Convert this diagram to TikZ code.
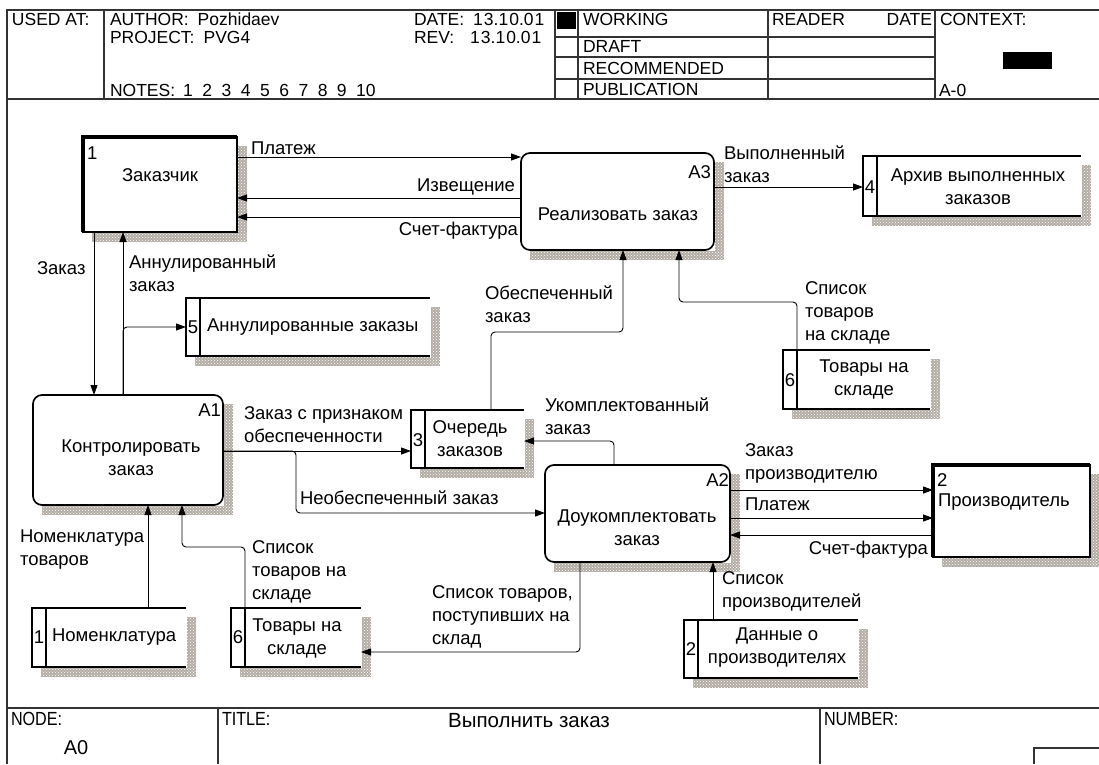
\documentclass[tikz,border=0pt]{standalone}
\usepackage{fontspec}
\setmainfont{Liberation Sans}
\newfontfamily\narrowfont[FakeStretch=0.85]{Liberation Sans}
\usetikzlibrary{arrows.meta,patterns}
\definecolor{shadowgray}{RGB}{178,172,164}
\newcommand{\myshadow}[4]{%
  \fill[shadowgray] ({#3+1},{#2+9}) rectangle ({#3+10},{#4+10});
  \fill[shadowgray] ({#1+9},{#4+1}) rectangle ({#3+10},{#4+10});
  \fill[pattern=crosshatch dots, pattern color=white] ({#3+1},{#2+9}) rectangle ({#3+10},{#4+10});
  \fill[pattern=crosshatch dots, pattern color=white] ({#1+9},{#4+1}) rectangle ({#3+10},{#4+10});}
\begin{document}
\begin{tikzpicture}[x=1pt,y=-1pt,
  every node/.style={inner sep=0pt, outer sep=0pt},
  region/.style={anchor=north west, minimum width=#1},
  txt/.style={font=\fontsize{18.5}{23}\selectfont},
  hdr/.style={font=\fontsize{17.5}{20}\selectfont, anchor=west},
  ftr/.style={font=\narrowfont\fontsize{19}{22}\selectfont, anchor=west},
  frm/.style={line width=1.2pt, draw=black!80},
  act/.style={draw, line width=1.7pt, rounded corners=9pt},
  ent/.style={draw, line width=2pt},
  storeline/.style={line width=1.7pt},
  arr/.style={-{Triangle[length=10pt,width=7pt]}, line width=0.9pt, rounded corners=4pt}]
\useasboundingbox (0,0) rectangle (1099,764);
\fill[white] (0,0) rectangle (1099,764);

% ---------- frame ----------
\draw[frm] (1099,10) -- (7,10) -- (7,764);
\draw[frm] (7,99) -- (1099,99);
\draw[frm] (104,10) -- (104,99);
\draw[frm] (555,10) -- (555,99);
\draw[frm] (578,10) -- (578,99);
\draw[frm] (768,10) -- (768,99);
\draw[frm] (935,10) -- (935,99);
\draw[frm] (555,37) -- (935,37);
\draw[frm] (555,57) -- (935,57);
\draw[frm] (555,79) -- (935,79);
\fill (557,12) rectangle (576,29);
\fill (1003,52) rectangle (1052,69);
\draw[frm] (7,708) -- (1099,708);
\draw[frm] (218,708) -- (218,764);
\draw[frm] (820,708) -- (820,764);
\draw[frm] (1034,764) -- (1034,748) -- (1099,748);

\node[hdr] (h1) at (12,19) {USED AT:};
\node[hdr] (h2) at (110,19) {AUTHOR:\hspace{9pt}Pozhidaev};
\node[hdr] (h3) at (110,37) {PROJECT:\hspace{9pt}PVG4};
\node[hdr] (h4) at (110,90) {NOTES:\hspace{8pt}1\hspace{9.5pt}2\hspace{9.5pt}3\hspace{9.5pt}4\hspace{9.5pt}5\hspace{9.5pt}6\hspace{9.5pt}7\hspace{9.5pt}8\hspace{9.5pt}9\hspace{9.5pt}10};
\node[hdr] (h5) at (414,19) {DATE:\hspace{9pt}1\hspace{1pt}3.1\hspace{1pt}0.0\hspace{1pt}1};
\node[hdr] (h6) at (414,37) {REV:\hspace{16pt}1\hspace{1pt}3.1\hspace{1pt}0.0\hspace{1pt}1};
\node[hdr] (h7) at (583,19) {WORKING};
\node[hdr] (h8) at (583,46) {DRAFT};
\node[hdr] (h9) at (583,68) {RECOMMENDED};
\node[hdr] (h10) at (583,89) {PUBLICATION};
\node[hdr] (h11) at (772,19) {READER};
\node[hdr, anchor=east] (h12) at (932,19) {DATE};
\node[hdr] (h13) at (940,19) {CONTEXT:};
\node[hdr] (h14) at (939,90) {A-0};
\node[ftr] (f1) at (11,719) {NODE:};
\node[ftr] (f2) at (222,719) {TITLE:};
\node[ftr] (f3) at (824,719) {NUMBER:};
\node[font=\fontsize{20}{24}\selectfont] (f4) at (76,748) {A0};
\node[font=\fontsize{20.5}{24}\selectfont] (f5) at (529,721) {Выполнить заказ};

% ---------- shadows ----------
\myshadow{83}{137}{237}{232}
\myshadow{521}{153}{714}{250}
\myshadow{863}{156}{1081}{216}
\myshadow{186}{298}{430}{356}
\myshadow{33}{395}{223}{505}
\myshadow{411}{410}{524}{468}
\myshadow{783}{350}{930}{409}
\myshadow{545}{465}{730}{562}
\myshadow{933}{465}{1090}{557}
\myshadow{32}{608}{186}{667}
\myshadow{231}{608}{361}{667}
\myshadow{684}{620}{858}{678}

% ---------- boxes ----------
\node[region=154pt, minimum height=95pt, ent, fill=white] (zak) at (83,137) {};
\draw[line width=4pt] (zak.south west) -- (zak.north west) -- (zak.north east);
\node[region=157pt, minimum height=92pt, ent, fill=white] (pr) at (933,465) {};
\draw[line width=4pt] (pr.south west) -- (pr.north west) -- (pr.north east);

\node[region=193pt, minimum height=97pt, act, fill=white] (a3) at (521,153) {};
\node[region=190pt, minimum height=110pt, act, fill=white] (a1) at (33,395) {};
\node[region=185pt, minimum height=97pt, act, fill=white] (a2) at (545,465) {};

\node[region=218pt, minimum height=60pt] (s4) at (863,156) {};
\node[region=244pt, minimum height=58pt] (s5) at (186,298) {};
\node[region=113pt, minimum height=58pt] (s3) at (411,410) {};
\node[region=147pt, minimum height=59pt] (s6r) at (783,350) {};
\node[region=154pt, minimum height=59pt] (s1) at (32,608) {};
\node[region=130pt, minimum height=59pt] (s6l) at (231,608) {};
\node[region=174pt, minimum height=58pt] (s2) at (684,620) {};
\foreach \s in {s4,s5,s3,s6r,s1,s6l,s2}{
  \draw[storeline] (\s.north east) -- (\s.north west) -- (\s.south west) -- (\s.south east);
  \draw[storeline] ([xshift=14pt]\s.north west) -- ([xshift=14pt]\s.south west);
}

% ---------- box texts ----------
\node[txt, anchor=west] (n1) at (87,153) {1};
\node[txt] (t1) at (160,175) {Заказчик};
\node[txt, anchor=east] (n2) at (711,172) {A3};
\node[txt] (t2) at (618,214) {Реализовать заказ};
\node[txt] (n3) at (870,187) {4};
\node[txt, align=center] (t3) at (978,187) {Архив выполненных\\заказов};
\node[txt] (n4) at (193,327) {5};
\node[txt, anchor=west] (t4) at (207,327) {Аннулированные заказы};
\node[txt, anchor=east] (n5) at (221,410) {A1};
\node[txt, align=center] (t5) at (131,458) {Контролировать\\заказ};
\node[txt] (n6) at (418,440) {3};
\node[txt, align=center] (t6) at (470,439) {Очередь\\заказов};
\node[txt] (n7) at (790,380) {6};
\node[txt, align=center] (t7) at (864,379) {Товары на\\складе};
\node[txt, anchor=east] (n8) at (729,480) {A2};
\node[txt, align=center] (t8) at (637,528) {Доукомплектовать\\заказ};
\node[txt, anchor=west] (n9) at (937,480) {2};
\node[txt, anchor=west] (t9) at (938,502) {Производитель};
\node[txt] (n10) at (39,637) {1};
\node[txt, anchor=west] (t10) at (52,637) {Номенклатура};
\node[txt] (n11) at (238,637) {6};
\node[txt, align=center] (t11) at (297,638) {Товары на\\складе};
\node[txt] (n12) at (691,649) {2};
\node[txt, align=center] (t12) at (777,648) {Данные о\\производителях};

% ---------- arrows ----------
\draw[arr] (zak.east |- 0,157) -- (a3.west |- 0,157);
\draw[arr] (a3.west |- 0,198) -- (zak.east |- 0,198);
\draw[arr] (a3.west |- 0,217) -- (zak.east |- 0,217);
\draw[arr] (a3.east |- 0,187) -- (s4.west |- 0,187);
\draw[arr] (zak.south -| 94,0) -- (a1.north -| 94,0);
\draw[arr] (a1.north -| 123,0) -- (zak.south -| 123,0);
\draw[arr] (a1.north -| 123,0) |- (s5.west);
\draw[arr] (a1.east |- 0,451) -- (s3.west |- 0,451);
\draw[arr] (a1.east |- 0,451) -| (296,513) -- (a2.west |- 0,513);
\draw[arr] (s3.north -| 491,0) |- (623,332) -- (a3.south -| 623,0);
\draw[arr] (s6r.north -| 797,0) |- (679,302) -- (a3.south -| 679,0);
\draw[arr] (a2.north -| 614,0) |- (s3.east |- 0,441);
\draw[arr] (s1.north -| 148,0) -- (a1.south -| 148,0);
\draw[arr] (s6l.north -| 245,0) |- (182,547) -- (a1.south -| 182,0);
\draw[arr] (a2.south -| 580,0) |- (s6l.east |- 0,652);
\draw[arr] (a2.east |- 0,490) -- (pr.west |- 0,490);
\draw[arr] (a2.east |- 0,518) -- (pr.west |- 0,518);
\draw[arr] (pr.west |- 0,535) -- (a2.east |- 0,535);
\draw[arr] (s2.north -| 713,0) -- (a2.south -| 713,0);

% ---------- arrow labels ----------
\node[txt, anchor=west] (l1) at (251,148) {Платеж};
\node[txt, anchor=east] (l2) at (515,187) {Извещение};
\node[txt, anchor=east] (l3) at (518,231) {Счет-фактура};
\node[txt, anchor=west, align=left] (l4) at (724,164) {Выполненный\\заказ};
\node[txt, anchor=west] (l5) at (37,268) {Заказ};
\node[txt, anchor=west, align=left] (l6) at (129,273) {Аннулированный\\заказ};
\node[txt, anchor=west, align=left] (l7) at (485,304) {Обеспеченный\\заказ};
\node[txt, anchor=west, align=left] (l8) at (805,313) {Список\\товаров\\на складе};
\node[txt, anchor=west, align=left] (l9) at (244,425) {Заказ с признаком\\обеспеченности};
\node[txt, anchor=west, align=left] (l10) at (545,416) {Укомплектованный\\заказ};
\node[txt, anchor=west] (l11) at (300,498) {Необеспеченный заказ};
\node[txt, anchor=west, align=left] (l12) at (745,463) {Заказ\\производителю};
\node[txt, anchor=west] (l13) at (745,504) {Платеж};
\node[txt, anchor=east] (l14) at (928,550) {Счет-фактура};
\node[txt, anchor=west, align=left] (l15) at (20,550) {Номенклатура\\товаров};
\node[txt, anchor=west, align=left] (l16) at (252,572) {Список\\товаров на\\складе};
\node[txt, anchor=west, align=left] (l17) at (432,617) {Список товаров,\\поступивших на\\склад};
\node[txt, anchor=west, align=left] (l18) at (722,591) {Список\\производителей};
\end{tikzpicture}
\end{document}
